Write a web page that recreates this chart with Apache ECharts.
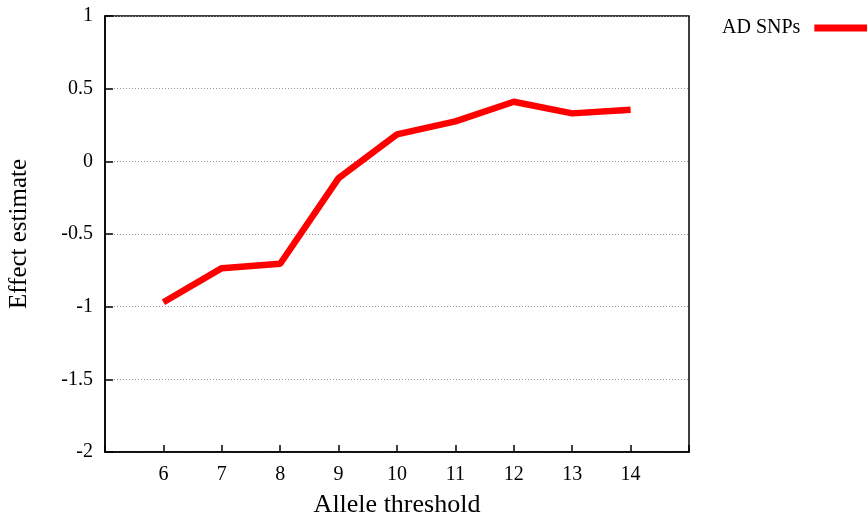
<!DOCTYPE html>
<html>
<head>
<meta charset="utf-8">
<script src="https://cdn.jsdelivr.net/npm/echarts@6/dist/echarts.min.js"></script>
<style>
html,body{margin:0;padding:0;background:#fff;}
#chart{width:867px;height:518px;}
</style>
</head>
<body>
<div id="chart"></div>
<script>
var thresholds = [6, 7, 8, 9, 10, 11, 12, 13, 14];
var effectEstimates = [-0.97, -0.735, -0.705, -0.115, 0.185, 0.275, 0.41, 0.33, 0.355];
var seriesName = 'AD SNPs';
var yTicks = [-2, -1.5, -1, -0.5, 0, 0.5, 1];

var FONT = 'Liberation Serif';
var chart = echarts.init(document.getElementById('chart'));
chart.setOption({
  animation: false,
  backgroundColor: '#fff',
  grid: {
    left: 105, right: 178, top: 16, bottom: 66,
    outerBoundsMode: 'none',
    containLabel: false,
    show: true, borderColor: '#000', borderWidth: 1.5, backgroundColor: 'transparent'
  },
  legend: {
    show: true,
    left: 722, top: 18,
    padding: 0,
    align: 'right',
    itemWidth: 60, itemHeight: 12,
    icon: 'path://M0,0 L60,0 L60,7 L0,7 Z',
    itemStyle: { color: '#ff0000' },
    textStyle: { fontFamily: FONT, fontSize: 20, color: '#000', padding: [0, 9, 0, 0] },
    data: [seriesName]
  },
  xAxis: {
    type: 'value',
    min: 5, max: 15, interval: 1,
    name: 'Allele threshold',
    nameLocation: 'middle',
    nameGap: 40,
    nameTextStyle: { fontFamily: FONT, fontSize: 26, color: '#000' },
    axisLine: { show: true, onZero: false, lineStyle: { color: '#000', width: 1.5 } },
    axisTick: { show: true, inside: true, length: 7, lineStyle: { color: '#000', width: 1.5 } },
    axisLabel: {
      fontFamily: FONT, fontSize: 20, color: '#000', margin: 13,
      formatter: function (v) { return thresholds.indexOf(v) >= 0 ? String(v) : ''; }
    },
    splitLine: { show: false }
  },
  yAxis: {
    type: 'value',
    min: yTicks[0], max: yTicks[yTicks.length - 1], interval: 0.5,
    name: 'Effect estimate',
    nameLocation: 'middle',
    nameGap: 73,
    nameRotate: 90,
    nameTextStyle: { fontFamily: FONT, fontSize: 25, color: '#000' },
    axisLine: { show: true, lineStyle: { color: '#000', width: 1.5 } },
    axisTick: { show: true, inside: true, length: 8, lineStyle: { color: '#000', width: 1.5 } },
    axisLabel: { fontFamily: FONT, fontSize: 20, color: '#000', margin: 12 },
    splitLine: { show: true, lineStyle: { color: '#999', width: 1, type: [1, 2] } }
  },
  series: [{
    name: seriesName,
    type: 'line',
    data: thresholds.map(function (t, i) { return [t, effectEstimates[i]]; }),
    showSymbol: false,
    symbol: 'none',
    lineStyle: { color: '#ff0000', width: 6.5 },
    itemStyle: { color: '#ff0000' }
  }]
});
</script>
</body>
</html>
